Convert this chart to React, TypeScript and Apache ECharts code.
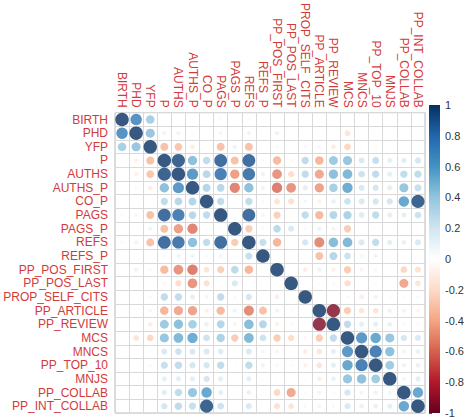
import React, { useEffect, useRef } from "react";
import * as echarts from "echarts";

const names = [
  "BIRTH", "PHD", "YFP", "P", "AUTHS", "AUTHS_P", "CO_P", "PAGS", "PAGS_P", "REFS", "REFS_P",
  "PP_POS_FIRST", "PP_POS_LAST", "PROP_SELF_CITS", "PP_ARTICLE", "PP_REVIEW", "MCS", "MNCS",
  "PP_TOP_10", "MNJS", "PP_COLLAB", "PP_INT_COLLAB",
];

// lower triangle of the correlation matrix (row i, columns 0..i)
const lower: number[][] = [
  [1],
  [0.72, 1],
  [0.4, 0.45, 1],
  [-0.03, -0.1, -0.35, 1],
  [-0.03, -0.1, -0.33, 0.95, 1],
  [0, -0.05, -0.12, 0.48, 0.68, 1],
  [0, 0, 0, 0.3, 0.33, 0.35, 1],
  [-0.05, -0.08, -0.35, 0.9, 0.82, 0.33, 0.3, 1],
  [-0.03, 0.03, 0.1, -0.35, -0.48, -0.58, 0, 0.04, 1],
  [-0.05, -0.1, -0.35, 0.9, 0.85, 0.48, 0.3, 0.9, -0.3, 1],
  [0, 0, 0, 0.05, 0.1, 0.1, 0.05, 0.08, 0.05, 0.28, 1],
  [0.03, 0.1, 0.05, -0.38, -0.52, -0.6, -0.18, -0.28, 0.32, -0.4, 0, 1],
  [0, 0, 0.03, -0.06, -0.22, -0.52, -0.2, -0.03, 0.2, 0.02, 0, 0, 1],
  [0, 0, 0.05, 0.3, 0.3, 0.15, 0.08, 0.3, 0.05, 0.22, 0, -0.12, 0, 1],
  [0, -0.03, 0.07, -0.4, -0.45, -0.47, -0.1, -0.38, 0.1, -0.55, -0.35, 0.1, 0.04, 0, 1],
  [0, 0.03, -0.12, 0.43, 0.48, 0.4, 0.12, 0.35, -0.08, 0.5, 0.35, -0.1, -0.05, 0, -0.95, 1],
  [-0.03, -0.18, -0.25, 0.45, 0.52, 0.58, 0.25, 0.38, -0.3, 0.52, 0.25, -0.3, -0.22, -0.06, -0.3, 0.3, 1],
  [0, 0, 0.04, 0.2, 0.25, 0.2, 0.2, 0.18, 0, 0.2, 0.08, -0.08, 0, -0.12, -0.17, 0.15, 0.68, 1],
  [0, 0.03, -0.05, 0.28, 0.3, 0.22, 0.22, 0.3, -0.04, 0.3, 0.1, -0.06, -0.05, -0.1, -0.18, 0.15, 0.6, 0.82, 1],
  [0, 0.02, 0.03, 0.14, 0.15, 0.15, 0.22, 0.15, 0, 0.15, 0.04, -0.04, 0, -0.04, -0.11, 0.12, 0.45, 0.48, 0.42, 1],
  [0, 0, 0, 0.16, 0.3, 0.45, 0.6, 0.15, 0, 0.12, 0.02, -0.25, -0.45, 0.04, -0.09, 0.05, 0.22, 0.09, 0.1, 0.08, 1],
  [0, 0, 0, 0.22, 0.3, 0.28, 0.95, 0.25, 0, 0.2, 0.02, -0.2, -0.18, 0.06, -0.08, 0.05, 0.2, 0.12, 0.12, 0.15, 0.6, 1],
];

const palette = [
  "#67001F", "#B2182B", "#D6604D", "#F4A582", "#FDDBC7", "#FFFFFF",
  "#D1E5F0", "#92C5DE", "#4393C3", "#2166AC", "#053061",
];

const FONT = "Liberation Sans, Arial, sans-serif";

export default function App() {
  const ref = useRef<HTMLDivElement>(null);
  useEffect(() => {
    if (!ref.current) return;
    const chart = echarts.init(ref.current, null, { renderer: "svg" });
    const n = names.length;
    const corr = names.map((_, i) => names.map((_, j) => (i >= j ? lower[i][j] : lower[j][i])));
    const data: number[][] = [];
    for (let i = 0; i < n; i++) for (let j = 0; j < n; j++) data.push([j, i, corr[i][j]]);

    const stops = palette
      .slice()
      .reverse()
      .map((c, k) => ({ offset: k / (palette.length - 1), color: c }));

    chart.setOption({
      animation: false,
      backgroundColor: "#fff",
      grid: [
        { left: 115, top: 105, width: 310, height: 308, show: true, borderColor: "#bdbdbd", borderWidth: 1 },
        { left: 429, top: 105, width: 11, height: 308 },
      ],
      xAxis: [
        {
          type: "category",
          gridIndex: 0,
          data: names,
          position: "top",
          axisLine: { show: false },
          axisTick: { show: false },
          splitLine: { show: true, interval: 0, lineStyle: { color: "#d9d9d9", width: 1 } },
          axisLabel: {
            interval: 0,
            rotate: 90,
            color: "#d23b3b",
            fontSize: 12,
            fontFamily: FONT,
            margin: 5,
          },
        },
        { type: "value", gridIndex: 1, min: 0, max: 1, show: false },
      ],
      yAxis: [
        {
          type: "category",
          gridIndex: 0,
          data: names,
          inverse: true,
          axisLine: { show: false },
          axisTick: { show: false },
          splitLine: { show: true, interval: 0, lineStyle: { color: "#d9d9d9", width: 1 } },
          axisLabel: {
            interval: 0,
            color: "#d23b3b",
            fontSize: 12,
            fontFamily: FONT,
            margin: 7,
          },
        },
        {
          type: "value",
          gridIndex: 1,
          min: -1,
          max: 1,
          interval: 0.2,
          position: "right",
          axisLine: { show: false },
          axisTick: { show: true, length: 3, lineStyle: { color: "#555" } },
          splitLine: { show: false },
          axisLabel: {
            color: "#333",
            fontSize: 11,
            fontFamily: FONT,
            margin: 5,
            formatter: (v: number) => String(Math.round(v * 10) / 10),
          },
        },
      ],
      visualMap: {
        show: false,
        type: "continuous",
        min: -1,
        max: 1,
        dimension: 2,
        seriesIndex: 0,
        inRange: { color: palette },
      },
      series: [
        {
          type: "scatter",
          xAxisIndex: 0,
          yAxisIndex: 0,
          data,
          symbol: "circle",
          symbolSize: (val: number[]) => 13.5 * Math.sqrt(Math.abs(val[2])),
          silent: true,
        },
        {
          type: "custom",
          xAxisIndex: 1,
          yAxisIndex: 1,
          data: [[0, 0]],
          silent: true,
          renderItem: (_params: any, api: any) => {
            const a = api.coord([0, 1]);
            const b = api.coord([1, -1]);
            return {
              type: "rect",
              shape: { x: a[0], y: a[1], width: b[0] - a[0], height: b[1] - a[1] },
              style: { fill: new echarts.graphic.LinearGradient(0, 0, 0, 1, stops) },
            };
          },
        },
      ],
    });
    return () => chart.dispose();
  }, []);
  return (
    <div
      ref={ref}
      style={{ position: "absolute", left: 0, top: 0, width: 468, height: 420, background: "#fff" }}
    />
  );
}
